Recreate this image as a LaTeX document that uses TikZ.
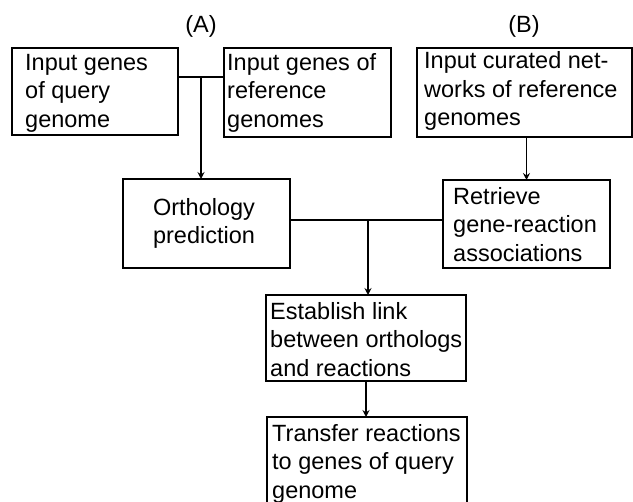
\documentclass[tikz,border=0pt]{standalone}
\usepackage{fontspec}
\setmainfont{Liberation Sans}
\usetikzlibrary{arrows.meta,calc}
\begin{document}
\begin{tikzpicture}[x=1pt,y=-1pt,
  box/.style={draw,line width=1.6pt,inner sep=0pt,outer sep=0pt,anchor=north west},
  tx/.style={inner sep=0pt,anchor=north west,align=left,font=\fontsize{23.5}{28.5}\selectfont},
  lbl/.style={inner sep=0pt,anchor=base,font=\fontsize{23.5}{28.5}\selectfont},
  ln/.style={line width=1.6pt},
  arr/.style={line width=1.6pt,-{Stealth[length=7pt,width=7pt,inset=2.5pt]}}]
\useasboundingbox (0,0) rectangle (633,502);
\clip (0,0) rectangle (633,502);
% boxes
\node[box,minimum width=166pt,minimum height=87pt] (q) at (12,48) {};
\node[box,minimum width=167pt,minimum height=89pt] (r) at (224,48) {};
\node[box,minimum width=215pt,minimum height=89pt] (n) at (417,48) {};
\node[box,minimum width=167pt,minimum height=89pt] (o) at (123,179) {};
\node[box,minimum width=167pt,minimum height=88pt] (g) at (443,180) {};
\node[box,minimum width=200pt,minimum height=86pt] (e) at (266,295) {};
\node[box,minimum width=200pt,minimum height=100pt] (t) at (267,417) {};
% texts
\node[lbl] (la) at (201,33) {(A)};
\node[lbl] (lb) at (524,33) {(B)};
\node[tx] (qt) at ($(q.north west)+(13,2.05)$) {\strut Input genes\\of query\\genome};
\node[tx] (rt) at ($(r.north west)+(3,2.05)$) {\strut Input genes of\\reference\\genomes};
\node[tx] (nt) at ($(n.north west)+(7,0.5)$) {\strut Input curated net-\\works of reference\\genomes};
\node[tx] (gt) at ($(g.north west)+(10,4.05)$) {\strut Retrieve\\gene-reaction\\associations};
\node[tx,anchor=north,align=center] (ot) at ($(o.north)+(-2.5,16.05)$) {\strut Orthology\\prediction};
\node[tx] (et) at ($(e.north west)+(4,4.05)$) {\strut Establish link\\between orthologs\\and reactions};
\node[tx] (tt) at ($(t.north west)+(5,4.05)$) {\strut Transfer reactions\\to genes of query\\genome};
% connectors
\coordinate (j1) at (201,77);
\coordinate (j2) at (368,220);
\draw[ln] (q.east |- j1) -- (r.west |- j1);
\draw[arr] (j1) -- (j1 |- o.north);
\draw[arr] (g.north |- n.south) -- (g.north);
\draw[ln] (o.east |- j2) -- (g.west |- j2);
\draw[arr] (j2) -- (j2 |- e.north);
\draw[arr] (e.south) -- (e.south |- t.north);
\end{tikzpicture}
\end{document}
